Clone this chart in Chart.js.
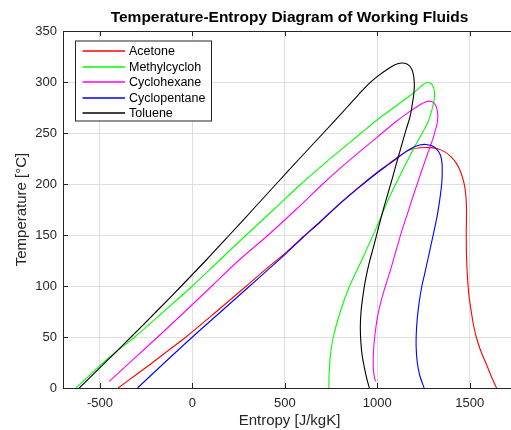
<!DOCTYPE html>
<html><head><meta charset="utf-8">
<script src="https://cdn.jsdelivr.net/npm/chart.js@4.4.1/dist/chart.umd.min.js"></script>
<style>html,body{margin:0;padding:0;overflow:hidden;background:#fff;width:511px;height:430px}canvas{display:block}</style>
</head><body>
<canvas id="c" width="516" height="430"></canvas>
<script>
const chartTitle = 'Temperature-Entropy Diagram of Working Fluids';
const xTitle = 'Entropy [J/kgK]';
const yTitle = 'Temperature [°C]';
const seriesNames = ['Acetone', 'Methylcycloh', 'Cyclohexane', 'Cyclopentane', 'Toluene'];
const seriesColors = ['#ff0000', '#00ff00', '#ff00ff', '#0000ff', '#000000'];
const xTicks = [-500, 0, 500, 1000, 1500];
const yTicks = [0, 50, 100, 150, 200, 250, 300, 350];

const acetoneS = [-402, -305, -215, -122, -35, 130, 292, 400, 510, 600, 690, 800, 900, 1000, 1060, 1116, 1150, 1185, 1230, 1280, 1323, 1365, 1396, 1425, 1448, 1463, 1473, 1479, 1482, 1482, 1481, 1483, 1489, 1496, 1508, 1520, 1535, 1558, 1586, 1615, 1645];
const acetoneT = [0, 13, 25, 38, 50, 75, 100, 117, 133.5, 148.5, 163, 181.5, 197, 211.5, 219.5, 227, 231, 234, 235.5, 235.7, 234.8, 231.5, 227, 221, 213, 205, 197, 188, 178, 165, 150, 125, 105, 90, 75, 62, 50, 37, 25, 12, 0];

const methylS = [-630, -500, -410, -312, -155, 0, 145, 291, 440, 587, 720, 800, 900, 1000, 1090, 1165, 1220, 1248, 1268, 1290, 1303, 1309, 1308, 1300, 1288, 1272, 1255, 1240, 1200, 1155, 1105, 1060, 1020, 990, 960, 915, 850, 800, 762, 745, 739, 738];
const methylT = [0, 22, 36, 50, 75, 100, 125, 150, 175, 200, 221, 233, 248, 263, 275, 285, 293, 297.5, 299.5, 298.5, 295, 290, 284, 276, 268, 260, 254, 249, 236, 220, 202, 185, 168, 155, 143, 125, 100, 75, 50, 30, 12, 0];

const cyclohexS = [-450, -320, -188, -40, 105, 250, 410, 560, 705, 800, 900, 1000, 1100, 1170, 1225, 1260, 1285, 1305, 1318, 1325, 1327, 1324, 1315, 1300, 1280, 1255, 1225, 1195, 1165, 1134, 1105, 1075, 1044, 1020, 1001, 987, 979, 978, 983, 990];
const cyclohexT = [6.5, 28, 50, 75, 100, 125, 150, 175, 200, 215.5, 231, 246, 261, 270.5, 277, 280.3, 281.2, 279.5, 276, 271, 266, 260, 253.5, 244, 234, 221, 205, 189, 172, 155, 137, 118, 100, 85, 70, 52, 35, 20, 12, 6.5];

const cyclopentS = [-297, -150, 0, 155, 310, 415, 510, 600, 690, 800, 900, 1000, 1060, 1116, 1160, 1200, 1230, 1261, 1295, 1322, 1342, 1350, 1351, 1349, 1343, 1334, 1322, 1308, 1290, 1272, 1256, 1241, 1227, 1217, 1211, 1210, 1216, 1230, 1253];
const cyclopentT = [0, 25, 50, 75, 100, 117, 132.5, 148, 162.5, 181, 196.5, 211, 219, 226.5, 232.5, 236.5, 238.3, 238.8, 237.5, 234, 228, 220, 211, 202, 192, 180, 167, 155, 140, 125, 112, 100, 85, 70, 55, 40, 25, 12, 0];

const tolueneS = [-612, -500, -415, -332, -195, -60, 72, 200, 327, 453, 580, 708, 835, 895, 955, 1008, 1055, 1095, 1132, 1160, 1180, 1193, 1199, 1200, 1197, 1189, 1177, 1156, 1125, 1100, 1074, 1048, 1022, 1003, 982, 955, 935, 922, 912, 908, 911, 918, 930, 942, 957];
const tolueneT = [0, 20, 35, 50, 75, 100, 125, 150, 175, 200, 225, 250, 275, 287, 298.5, 306.5, 312.5, 316.8, 318.6, 317.6, 314.5, 309, 302, 295, 288, 278, 266, 253.5, 234, 218, 201, 185, 168, 155, 140, 122, 105, 90, 75, 60, 45, 32, 20, 10, 0];

const entropySeries = [acetoneS, methylS, cyclohexS, cyclopentS, tolueneS];
const tempSeries = [acetoneT, methylT, cyclohexT, cyclopentT, tolueneT];

const FONT = "'Liberation Sans', Arial, Helvetica, sans-serif";
const AX = '#262626';

const datasets = seriesNames.map((name, i) => ({
  label: name,
  data: entropySeries[i].map((s, k) => ({x: s, y: tempSeries[i][k]})),
  borderColor: seriesColors[i],
  backgroundColor: seriesColors[i],
  borderWidth: 1.1,
  pointRadius: 0,
  tension: 0.3,
  fill: false,
  order: seriesNames.length - i
}));

const frame = {
  id: 'frame',
  afterDatasetsDraw(chart) {
    const {ctx, chartArea: a, scales: {x, y}} = chart;
    ctx.save();
    ctx.strokeStyle = AX; ctx.lineWidth = 1;
    ctx.beginPath();
    ctx.moveTo(a.left, a.top + 0.5); ctx.lineTo(a.right, a.top + 0.5);
    ctx.moveTo(a.left, a.bottom + 0.5); ctx.lineTo(a.right, a.bottom + 0.5);
    ctx.moveTo(a.left + 0.5, a.top); ctx.lineTo(a.left + 0.5, a.bottom + 1);
    x.ticks.forEach(t => {
      const px = Math.round(x.getPixelForValue(t.value)) + 0.5;
      ctx.moveTo(px, a.bottom); ctx.lineTo(px, a.bottom - 5);
      ctx.moveTo(px, a.top); ctx.lineTo(px, a.top + 5);
    });
    y.ticks.forEach(t => {
      const py = Math.round(y.getPixelForValue(t.value)) + 0.5;
      ctx.moveTo(a.left, py); ctx.lineTo(a.left + 5, py);
      ctx.moveTo(a.right, py); ctx.lineTo(a.right - 5, py);
    });
    ctx.stroke();

    // legend
    const x0 = a.left + 12, y0 = a.top + 9.5, w = 136, h = 80;
    ctx.fillStyle = '#ffffff';
    ctx.fillRect(x0, y0, w, h);
    ctx.strokeStyle = AX;
    ctx.lineWidth = 1;
    ctx.strokeRect(x0 + 0.5, y0 + 0.5, w, h);
    ctx.font = '12.5px ' + FONT;
    ctx.textBaseline = 'middle';
    ctx.textAlign = 'left';
    seriesNames.forEach((name, i) => {
      const ly = Math.round(y0 + 10.5 + i * 15.5);
      ctx.beginPath();
      ctx.strokeStyle = seriesColors[i];
      ctx.lineWidth = 1.3;
      ctx.moveTo(x0 + 7.5, ly); ctx.lineTo(x0 + 50, ly);
      ctx.stroke();
      ctx.fillStyle = '#000000';
      ctx.fillText(name, x0 + 54, ly + 0.5);
    });

    // title
    ctx.font = 'bold 15.5px ' + FONT;
    ctx.fillStyle = '#000000';
    ctx.textAlign = 'center';
    ctx.textBaseline = 'middle';
    ctx.fillText(chartTitle, (a.left + a.right) / 2, 17.5);
    ctx.restore();
  }
};

new Chart(document.getElementById('c'), {
  type: 'line',
  data: {datasets},
  options: {
    responsive: false,
    devicePixelRatio: 1,
    animation: false,
    layout: {padding: {top: 31, left: 0, right: 0, bottom: 0}},
    plugins: {legend: {display: false}, title: {display: false}, tooltip: {enabled: false}},
    scales: {
      x: {
        type: 'linear', min: -700, max: 1750,
        afterBuildTicks: s => { s.ticks = xTicks.map(v => ({value: v})); },
        afterFit: s => { s.height = 42; },
        grid: {color: '#dfdfdf', lineWidth: 1, drawTicks: false},
        border: {display: false},
        ticks: {color: AX, font: {family: FONT, size: 13}, padding: 7.5, maxRotation: 0, callback: v => String(v)},
        title: {display: true, text: xTitle, color: AX, font: {family: FONT, size: 15}, padding: {top: 0, bottom: 0}}
      },
      y: {
        type: 'linear', min: 0, max: 350,
        afterBuildTicks: s => { s.ticks = yTicks.map(v => ({value: v})); },
        afterFit: s => { s.width = 63; },
        grid: {color: '#dfdfdf', lineWidth: 1, drawTicks: false},
        border: {display: false},
        ticks: {color: AX, font: {family: FONT, size: 13}, padding: 6, callback: v => String(v)},
        title: {display: true, text: yTitle, color: AX, font: {family: FONT, size: 15}, padding: {top: 13, bottom: 0}}
      }
    }
  },
  plugins: [frame]
});
</script>
</body></html>
